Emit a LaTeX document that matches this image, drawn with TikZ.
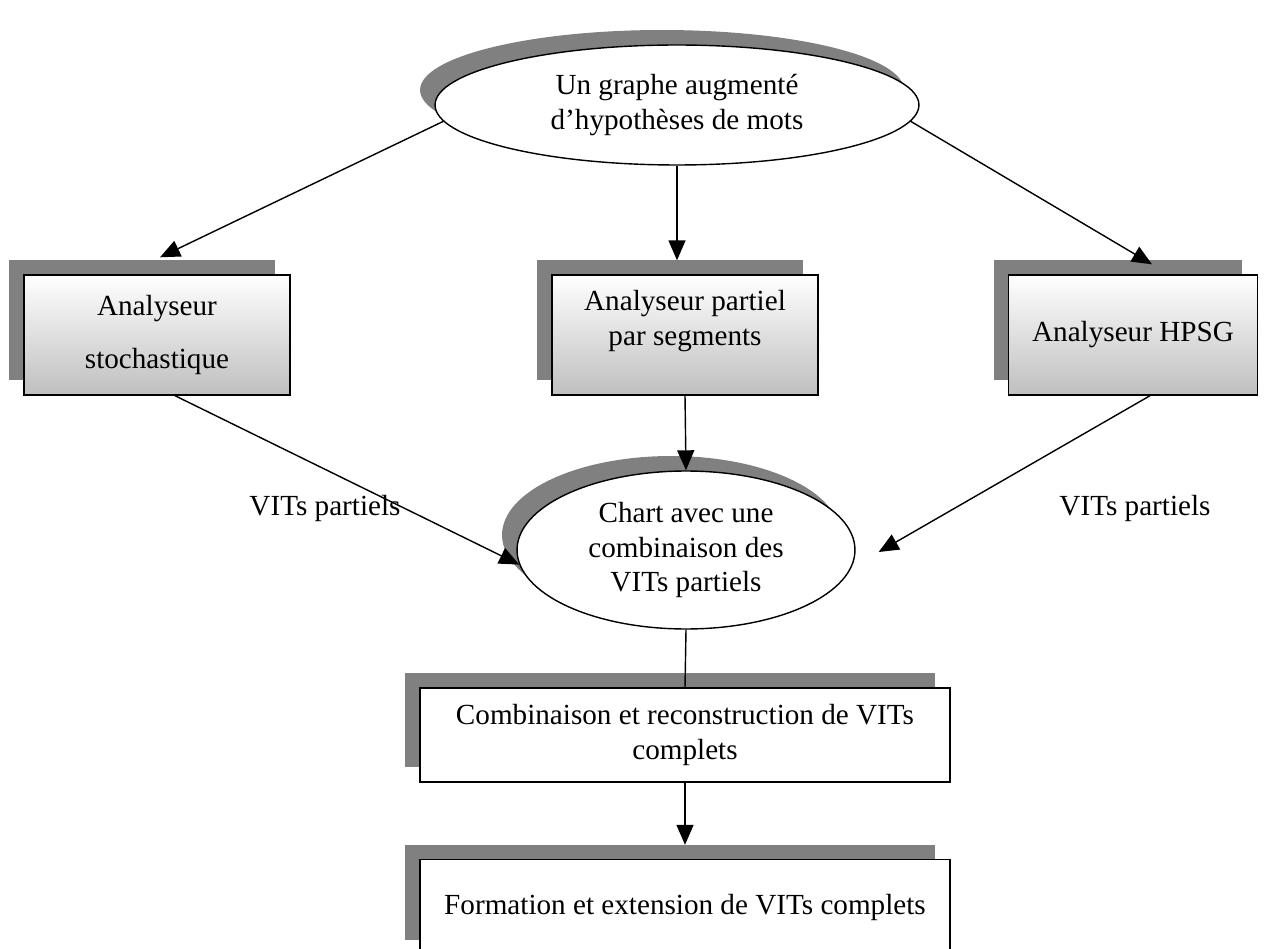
\documentclass[tikz,border=0pt]{standalone}
\usepackage{fontspec}
\setmainfont{Liberation Serif}
\usetikzlibrary{arrows.meta}
\usetikzlibrary{positioning}
\usetikzlibrary{shapes.geometric}
\usetikzlibrary{shadows}
\usetikzlibrary{calc}
\usepackage{xcolor}
\definecolor{shadowgrey}{HTML}{808080}
\definecolor{boxgrey}{HTML}{BFBFBF}

\begin{document}
\begin{tikzpicture}[
    x=0.02cm, y=-0.02cm,
    font=\fontsize{16.6}{19.8}\selectfont,
    shadowed/.style={drop shadow={shadow xshift=-0.3cm, shadow yshift=0.3cm,
      fill=shadowgrey, opacity=1}},
    oval/.style={ellipse, draw, thick, fill=white, shadowed,
      inner sep=0pt, align=center},
    parser/.style={rectangle, draw, thick, top color=white,
      bottom color=boxgrey, shadowed, minimum height=2.4cm, align=center},
    stage/.style={rectangle, draw, thick, fill=white, shadowed,
      minimum width=10.6cm, align=center},
    arrow/.style={-{Triangle[length=0.4cm, width=0.34cm]}, line width=0.8pt},
    link/.style={line width=0.8pt},
  ]
    \useasboundingbox (0,0) rectangle (1274,949);

    \node[oval, minimum width=9.68cm, minimum height=2.4cm] (graphe)
      at (677,105) {Un graphe augmenté\\d’hypothèses de mots};
    \node[parser, minimum width=5.32cm] (stoch) at (157,335)
      {Analyseur\\[0.35cm]stochastique};
    \node[parser, minimum width=5.32cm] (segm) at (685,335)
      {Analyseur partiel\\par segments\\ \mbox{}};
    \node[parser, minimum width=4.98cm] (hpsg) at (1133,335) {Analyseur HPSG};
    \node[oval, minimum width=6.76cm, minimum height=3.16cm] (chart)
      at (686,550) {Chart avec une\\combinaison des\\VITs partiels};
    \node[stage, minimum height=1.88cm] (comb) at (685,735)
      {Combinaison et reconstruction de VITs\\complets};
    \node[stage, minimum height=1.9cm] (form) at (685,907)
      {Formation et extension de VITs complets};

    \node (vitsl) at (325,508) {VITs partiels};
    \node (vitsr) at (1135,508) {VITs partiels};

    \draw[arrow] (graphe.184) -- ($(stoch.north)+(3,-17)$);
    \draw[arrow] (graphe.south) -- ($(graphe.south |- segm.north)+(0,-14)$);
    \draw[arrow] (graphe.-4) -- ($(hpsg.north)+(19,-10)$);
    \draw[arrow] ($(stoch.south)+(18,0)$) -- (chart.185);
    \draw[arrow] (segm.south) -- (chart.north);
    \draw[arrow] ($(hpsg.south)+(17,0)$) -- ($(chart.east)+(23,2)$);
    \draw[link] (chart.south) -- (comb.north);
    \draw[arrow] (comb.south) -- ($(form.north)+(0,-14)$);
  \end{tikzpicture}
\end{document}
